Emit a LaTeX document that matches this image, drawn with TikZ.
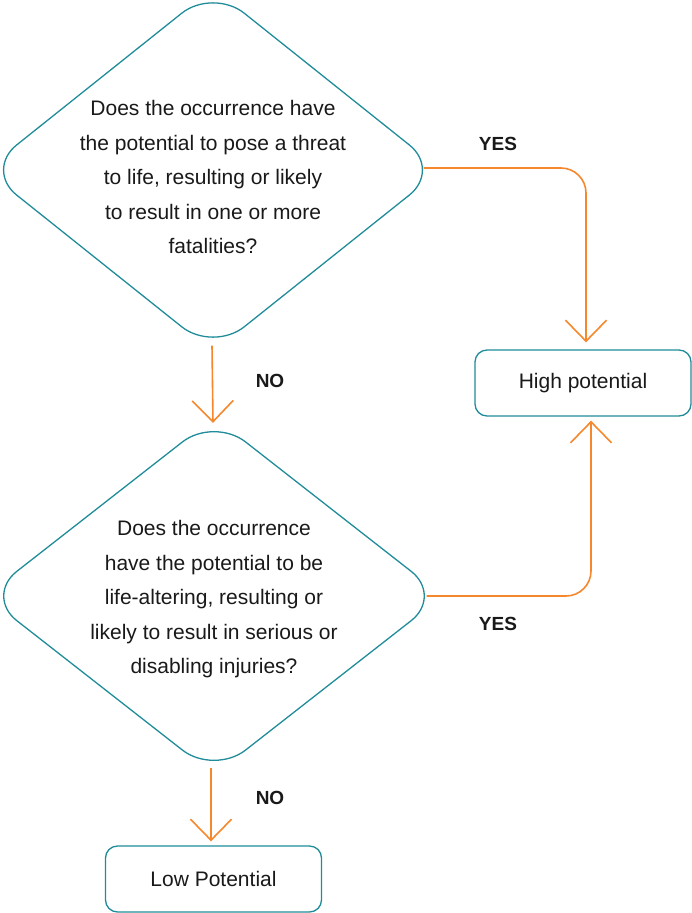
\documentclass[tikz,border=0pt]{standalone}
\usepackage{fontspec}
\setmainfont{Liberation Sans}
\usetikzlibrary{shapes.geometric, arrows.meta}

\begin{document}
\begin{tikzpicture}[x=1pt, y=-1pt,
    decision/.style={diamond, draw=tealline, line width=1.3pt, rounded corners=40pt, minimum width=456pt, minimum height=364pt, inner sep=0pt},
    question/.style={align=center, text=textdark, font=\fontsize{21}{34.5}\selectfont},
    outcome/.style={draw=tealline, line width=1.3pt, rounded corners=12pt, minimum width=216pt, minimum height=66pt, text=textdark, font=\fontsize{21}{25}\selectfont},
    answer/.style={text=textdark, font=\fontsize{19}{22}\selectfont\bfseries},
    flow/.style={draw=flowline, line width=1.6pt, -{Straight Barb[length=21pt, width=41pt]}}]
    % Define colors for lines and text
        \definecolor{tealline}{RGB}{32, 140, 153}  % teal outline of the shapes
        \definecolor{flowline}{RGB}{245, 135, 45}  % orange connectors
        \definecolor{textdark}{RGB}{25, 25, 25}  % near black text

        \useasboundingbox (0,0) rectangle (692,913);

        % Draw the first question diamond
        \node[decision] (q1) at (213,170) {};
        \node[question] (q1text) at (213,177) {Does the occurrence have\\the potential to pose a threat\\to life, resulting or likely\\to result in one or more\\fatalities?};

        % Draw the second question diamond
        \node[decision, minimum width=458pt, minimum height=358pt] (q2) at (214,596) {};
        \node[question] (q2text) at (214,599.5) {Does the occurrence\\have the potential to be\\life-altering, resulting or\\likely to result in serious or\\disabling injuries?};

        % Draw the two outcome boxes
        \node[outcome] (high) at (583,383) {High potential};
        \node[outcome] (low) at (213.5,879) {Low Potential};

        % Answers along the arrows
        \node[answer] (yes1) at (498,144) {YES};
        \node[answer] (no1) at (270,381) {NO};
        \node[answer] (yes2) at (498,624) {YES};
        \node[answer] (no2) at (270,798) {NO};

        % Draw the YES arrows into "High potential"
        \draw[flow, rounded corners=25pt, shorten >=7pt] ([xshift=-18pt, yshift=2pt]q1.east) -| ([xshift=3pt]high.north);
        \draw[flow, rounded corners=25pt, shorten >=4pt] ([xshift=-17pt]q2.east) -| ([xshift=8pt]high.south);

        % Draw the NO arrows downwards
        \draw[flow] ([xshift=-1pt, yshift=7pt]q1.south) -- ([xshift=-1pt, yshift=-6.5pt]q2.north);
        \draw[flow, shorten >=4pt, transform canvas={xshift=-3pt}] ([yshift=8pt]q2.south) -- (q2.south |- low.north);

    \end{tikzpicture}
\end{document}
